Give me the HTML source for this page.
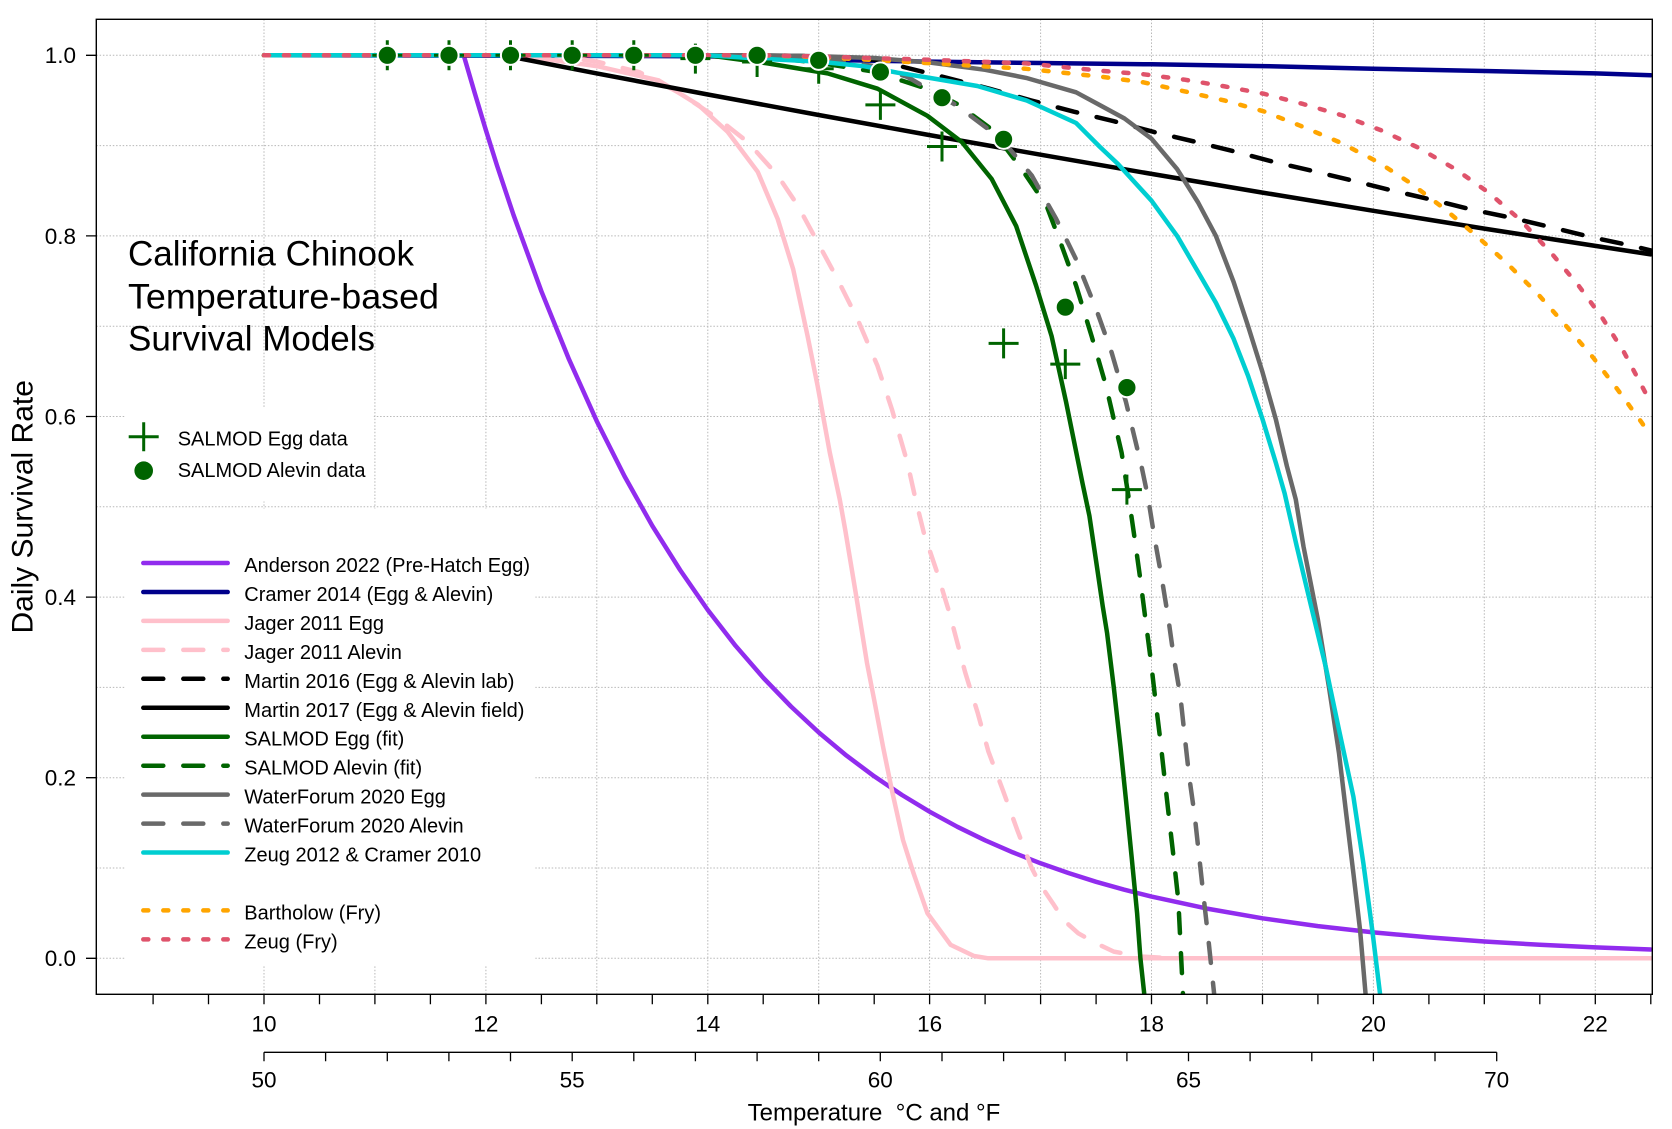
<!DOCTYPE html>
<html>
<head>
<meta charset="utf-8">
<style>
html,body{margin:0;padding:0;background:#fff;}
svg{display:block;}
text{font-family:"Liberation Sans",Arial,sans-serif;fill:#000;}
</style>
</head>
<body>
<svg width="1672" height="1129" viewBox="0 0 1672 1129" xmlns="http://www.w3.org/2000/svg">
<defs>
<clipPath id="pc"><rect x="96.3" y="19.3" width="1556" height="975"/></clipPath>
</defs>
<rect x="0" y="0" width="1672" height="1129" fill="#fff"/>

<!-- grid -->
<g stroke="#b8b8b8" stroke-width="1" stroke-dasharray="1.5 1.8" fill="none">
<path d="M96.3,958.3H1652.3M96.3,868H1652.3M96.3,777.7H1652.3M96.3,687.4H1652.3M96.3,597.1H1652.3M96.3,506.8H1652.3M96.3,416.5H1652.3M96.3,326.2H1652.3M96.3,235.9H1652.3M96.3,145.6H1652.3M96.3,55.3H1652.3"/>
<path d="M264,19.3V994.3M374.9,19.3V994.3M485.9,19.3V994.3M596.8,19.3V994.3M707.8,19.3V994.3M818.7,19.3V994.3M929.6,19.3V994.3M1040.6,19.3V994.3M1151.5,19.3V994.3M1262.5,19.3V994.3M1373.4,19.3V994.3M1484.3,19.3V994.3M1595.3,19.3V994.3"/>
</g>

<!-- curves -->
<g clip-path="url(#pc)" fill="none" stroke-width="4.5" stroke-linecap="round" stroke-linejoin="round">
<path stroke="#912CEE" d="M264,55.3 L463.7,55.3 L474.8,93.2 L485.9,130.2 L497.0,165.5 L513.6,215.2 L541.4,291.3 L569.1,359.6 L596.8,421.2 L624.6,476.4 L652.3,525.8 L680.1,570.0 L707.8,610.0 L735.5,645.7 L763.2,677.7 L791.0,706.5 L818.7,732.4 L846.5,755.6 L874.2,776.3 L902.0,795.0 L929.6,811.7 L957.4,826.8 L985.1,840.3 L1012.9,852.4 L1040.6,863.3 L1068.4,873.0 L1096.1,881.8 L1123.8,889.6 L1151.5,896.6 L1207.0,908.6 L1262.5,918.3 L1317.9,926.1 L1373.4,932.4 L1428.9,937.4 L1484.3,941.5 L1539.8,944.8 L1595.3,947.4 L1650.8,949.5"/>
<path stroke="#00008B" d="M264,55.3 L707.8,56.2 L818.7,59.8 L929.6,61.6 L1040.6,63.0 L1151.5,64.3 L1262.5,66.1 L1373.4,68.8 L1484.3,71.0 L1595.3,73.4 L1650.8,75.2"/>
<path stroke="#FFC0CB" d="M264,55.3 L519.2,55.3 L543.6,58.9 L596.8,66.1 L658.9,80.5 L698.3,104.9 L727.7,131.9 L757.7,171.8 L777.6,218.7 L793.2,269.3 L807.6,336.1 L817.6,385.8 L829.8,452.6 L839.8,499.6 L845.3,530.3 L856.4,597.1 L867.0,663.0 L874.2,700.0 L883.1,747.0 L891.9,790.3 L903.0,840.0 L913.6,873.4 L927.4,913.2 L950.7,944.9 L974.0,956.0 L988.3,958.3 L1650.8,958.3"/>
<path stroke="#FFC0CB" stroke-dasharray="20 20" d="M264,55.3 L552.4,55.3 L596.8,61.6 L639.0,72.0 L678.4,92.3 L717.8,118.5 L747.7,142.0 L777.6,175.4 L797.6,205.2 L817.6,242.2 L837.5,279.2 L857.5,319.0 L877.5,365.9 L891.9,409.3 L907.4,462.6 L915.2,497.8 L924.1,533.9 L936.3,570.0 L949.6,613.4 L965.1,672.1 L977.9,713.6 L988.4,751.5 L1002.9,790.3 L1017.3,830.1 L1031.7,868.0 L1040.6,885.2 L1052.8,903.2 L1063.9,920.4 L1078.3,933.3 L1096.1,943.3 L1113.8,951.6 L1140.4,956.5 L1173.7,958.3 L1650.8,958.3"/>
<path stroke="#000" stroke-dasharray="20 20" d="M264,55.3 L763.2,55.3 L818.7,56.2 L874.2,59.8 L929.6,73.4 L989.3,88.7 L1031.4,100.5 L1073.9,111.7 L1113.8,121.2 L1154.3,132.1 L1193.7,141.4 L1234.7,151.5 L1273.6,161.9 L1312.4,170.9 L1353.4,180.8 L1393.4,190.8 L1432.2,199.8 L1472.2,209.7 L1512.1,217.9 L1550.9,227.2 L1592.0,237.3 L1631.9,245.8 L1650.8,250.4"/>
<path stroke="#000" d="M264,55.3 L503.6,55.3 L596.8,73.4 L707.8,94.5 L818.7,115.0 L929.6,135.1 L1040.6,154.7 L1151.5,173.9 L1262.5,192.6 L1373.4,210.8 L1484.3,228.6 L1595.3,245.9 L1650.8,254.4"/>
<path stroke="#006400" d="M264,55.3 L707.8,55.3 L767.7,63.4 L827.6,73.4 L877.5,88.7 L927.4,115.8 L961.8,142.0 L991.7,179.0 L1016.1,225.9 L1036.1,285.6 L1051.6,336.1 L1066.1,402.1 L1082.7,484.2 L1089.4,515.8 L1096.1,561.0 L1102.7,606.1 L1107.1,633.2 L1113.8,687.4 L1120.5,747.0 L1126.0,800.3 L1131.6,856.7 L1137.1,913.2 L1140.4,958.3 L1144.3,994.4"/>
<path stroke="#006400" stroke-dasharray="20 20" d="M264,55.3 L707.8,55.3 L763.2,57.1 L818.7,62.7 L874.2,71.7 L929.6,89.6 L957.4,104.1 L991.8,129.4 L1021.7,169.1 L1046.7,206.1 L1061.7,245.8 L1076.1,285.6 L1091.6,336.1 L1106.0,385.8 L1121.6,452.6 L1129.4,502.3 L1134.9,540.2 L1140.4,579.9 L1145.5,619.7 L1150.8,660.3 L1155.4,700.0 L1160.3,739.8 L1164.8,780.4 L1169.3,820.1 L1173.9,859.9 L1178.3,900.0 L1183.0,994.4"/>
<path stroke="#696969" d="M264,55.3 L763.2,55.3 L818.7,56.2 L874.2,58.0 L929.6,62.5 L985.1,69.8 L1026.1,77.9 L1076.1,92.3 L1099.4,104.9 L1124.5,118.5 L1151.5,138.7 L1177.1,169.1 L1198.1,202.5 L1215.9,235.9 L1233.6,281.9 L1248.1,326.2 L1262.5,372.2 L1275.8,419.2 L1286.9,466.2 L1295.8,499.6 L1303.5,546.5 L1317.9,619.7 L1329.0,687.4 L1339.0,753.3 L1346.2,813.8 L1353.4,873.4 L1360.1,930.3 L1365.6,994.4"/>
<path stroke="#696969" stroke-dasharray="20 20" d="M264,55.3 L763.2,55.3 L818.7,58.0 L874.2,66.1 L907.5,77.0 L957.4,105.9 L1001.7,139.3 L1031.7,175.4 L1056.1,218.7 L1076.1,259.4 L1096.1,309.0 L1111.6,352.4 L1126.0,402.1 L1141.5,466.2 L1148.1,497.8 L1154.3,536.6 L1161.5,576.8 L1168.1,617.0 L1173.7,656.7 L1180.4,696.4 L1184.8,737.1 L1189.2,776.8 L1194.8,816.5 L1199.2,856.7 L1203.6,896.9 L1208.1,936.6 L1214.2,994.4"/>
<path stroke="#00CED1" d="M264,55.3 L707.8,55.3 L763.2,58.9 L818.7,61.6 L863.1,66.1 L897.5,72.7 L929.6,77.9 L977.3,86.0 L1026.7,100.5 L1076.1,123.0 L1100.0,147.0 L1118.0,164.0 L1151.5,200.7 L1177.1,235.9 L1198.1,272.0 L1215.9,302.7 L1233.6,338.8 L1248.1,375.9 L1262.5,419.2 L1275.8,462.6 L1284.6,493.3 L1296.8,546.5 L1311.3,607.0 L1325.7,666.6 L1339.0,729.8 L1353.4,796.7 L1363.4,863.5 L1372.3,930.3 L1380.1,994.4"/>
<path stroke="#FFA500" stroke-dasharray="5 15" d="M264,55.3 L763.2,55.3 L818.7,57.1 L901.9,61.6 L1026.2,68.8 L1103.3,77.0 L1143.8,82.4 L1184.8,91.4 L1224.7,100.5 L1263.6,111.3 L1300.2,125.7 L1339.0,142.0 L1377.8,161.9 L1411.1,183.5 L1444.4,208.8 L1476.6,235.9 L1507.6,263.9 L1537.6,293.7 L1566.4,326.2 L1593.0,357.4 L1617.5,389.4 L1641.9,422.8 L1650.8,436.4"/>
<path stroke="#DF536B" stroke-dasharray="5 15" d="M264,55.3 L763.2,55.3 L818.7,56.5 L929.6,59.8 L1026.2,63.4 L1103.3,71.0 L1143.8,74.3 L1184.8,79.7 L1224.7,86.4 L1263.6,93.7 L1303.4,104.1 L1342.3,115.4 L1381.1,130.3 L1417.7,147.4 L1455.4,169.1 L1488.7,192.6 L1520.9,220.5 L1552.0,253.9 L1578.6,285.6 L1603.0,319.0 L1624.1,352.4 L1645.1,392.1 L1650.8,401.1"/>
</g>

<!-- egg data (plus) -->
<g stroke="#006400" stroke-width="3" fill="none">
<path d="M372.3,55.3H402.3M387.3,40.3V70.3"/>
<path d="M434,55.3H464M449,40.3V70.3"/>
<path d="M495.5,55.3H525.5M510.5,40.3V70.3"/>
<path d="M557.2,55.3H587.2M572.2,40.3V70.3"/>
<path d="M618.8,55.3H648.8M633.8,40.3V70.3"/>
<path d="M680.4,58.6H710.4M695.4,43.6V73.6"/>
<path d="M742.1,62H772.1M757.1,47V77"/>
<path d="M803.7,68.8H833.7M818.7,53.8V83.8"/>
<path d="M865.4,104.9H895.4M880.4,89.9V119.9"/>
<path d="M927,146.5H957M942,131.5V161.5"/>
<path d="M988.6,343.4H1018.6M1003.6,328.4V358.4"/>
<path d="M1050.3,364.1H1080.3M1065.3,349.1V379.1"/>
<path d="M1111.9,489.6H1141.9M1126.9,474.6V504.6"/>
</g>
<!-- alevin data (circles) -->
<g fill="#006400" stroke="#fff" stroke-width="2">
<circle cx="387.3" cy="55.3" r="9.6"/>
<circle cx="449" cy="55.3" r="9.6"/>
<circle cx="510.5" cy="55.3" r="9.6"/>
<circle cx="572.2" cy="55.3" r="9.6"/>
<circle cx="633.8" cy="55.3" r="9.6"/>
<circle cx="695.4" cy="55.3" r="9.6"/>
<circle cx="757.1" cy="55.3" r="9.6"/>
<circle cx="818.7" cy="60.3" r="9.6"/>
<circle cx="880.4" cy="72" r="9.6"/>
<circle cx="942" cy="97.7" r="9.6"/>
<circle cx="1003.6" cy="139.3" r="9.6"/>
<circle cx="1065.3" cy="307.2" r="9.6"/>
<circle cx="1126.9" cy="387.6" r="9.6"/>
</g>

<!-- title -->
<text x="128" y="265.7" font-size="35">California Chinook</text>
<text x="128" y="308.3" font-size="35" textLength="311" lengthAdjust="spacingAndGlyphs">Temperature-based</text>
<text x="128" y="350.7" font-size="35">Survival Models</text>

<!-- legend 1 -->
<rect x="125.3" y="407" width="248.5" height="94.5" fill="#fff"/>
<path d="M128.7,436.7H158.7M143.7,422.2V451.2" stroke="#006400" stroke-width="3"/>
<circle cx="143.7" cy="470.7" r="9.3" fill="#006400"/>
<text x="177.7" y="445.7" font-size="20">SALMOD Egg data</text>
<text x="177.7" y="477.1" font-size="20">SALMOD Alevin data</text>

<!-- legend 2 -->
<rect x="125.3" y="508.5" width="410" height="456.5" fill="#fff"/>
<g fill="none" stroke-width="4.5" stroke-linecap="round">
<path stroke="#912CEE" d="M143.3,563H227.7"/>
<path stroke="#00008B" d="M143.3,592H227.7"/>
<path stroke="#FFC0CB" d="M143.3,620.9H227.7"/>
<path stroke="#FFC0CB" stroke-dasharray="20 20" d="M143.3,649.9H227.7"/>
<path stroke="#000" stroke-dasharray="20 20" d="M143.3,678.8H227.7"/>
<path stroke="#000" d="M143.3,707.8H227.7"/>
<path stroke="#006400" d="M143.3,736.7H227.7"/>
<path stroke="#006400" stroke-dasharray="20 20" d="M143.3,765.7H227.7"/>
<path stroke="#696969" d="M143.3,794.6H227.7"/>
<path stroke="#696969" stroke-dasharray="20 20" d="M143.3,823.6H227.7"/>
<path stroke="#00CED1" d="M143.3,852.5H227.7"/>
<path stroke="#FFA500" stroke-dasharray="5 15" d="M143.3,910.4H227.7"/>
<path stroke="#DF536B" stroke-dasharray="5 15" d="M143.3,939.4H227.7"/>
</g>
<g font-size="20">
<text x="244.3" y="572">Anderson 2022 (Pre-Hatch Egg)</text>
<text x="244.3" y="601">Cramer 2014 (Egg &amp; Alevin)</text>
<text x="244.3" y="629.9">Jager 2011 Egg</text>
<text x="244.3" y="658.9">Jager 2011 Alevin</text>
<text x="244.3" y="687.8">Martin 2016 (Egg &amp; Alevin lab)</text>
<text x="244.3" y="716.8">Martin 2017 (Egg &amp; Alevin field)</text>
<text x="244.3" y="745.7">SALMOD Egg (fit)</text>
<text x="244.3" y="774.7">SALMOD Alevin (fit)</text>
<text x="244.3" y="803.6">WaterForum 2020 Egg</text>
<text x="244.3" y="832.6">WaterForum 2020 Alevin</text>
<text x="244.3" y="861.5">Zeug 2012 &amp; Cramer 2010</text>
<text x="244.3" y="919.4">Bartholow (Fry)</text>
<text x="244.3" y="948.4">Zeug (Fry)</text>
</g>

<!-- box -->
<rect x="96.3" y="19.3" width="1556" height="975" fill="none" stroke="#000" stroke-width="1.4"/>

<!-- y axis -->
<g stroke="#000" stroke-width="1.3">
<path d="M86,958.3H96.3M86,777.7H96.3M86,597.1H96.3M86,416.5H96.3M86,235.9H96.3M86,55.3H96.3"/>
</g>
<g font-size="22.5" text-anchor="end">
<text x="76" y="966.2">0.0</text>
<text x="76" y="785.6">0.2</text>
<text x="76" y="605">0.4</text>
<text x="76" y="424.4">0.6</text>
<text x="76" y="243.8">0.8</text>
<text x="76" y="63.2">1.0</text>
</g>
<text transform="translate(32.5,506.8) rotate(-90)" font-size="30" text-anchor="middle">Daily Survival Rate</text>

<!-- x axis C -->
<g stroke="#000" stroke-width="1.3">
<path d="M153.1,994.3V1004.3M208.5,994.3V1004.3M264,994.3V1004.3M319.5,994.3V1004.3M374.9,994.3V1004.3M430.4,994.3V1004.3M485.9,994.3V1004.3M541.4,994.3V1004.3M596.8,994.3V1004.3M652.3,994.3V1004.3M707.8,994.3V1004.3M763.2,994.3V1004.3M818.7,994.3V1004.3M874.2,994.3V1004.3M929.6,994.3V1004.3M985.1,994.3V1004.3M1040.6,994.3V1004.3M1096.1,994.3V1004.3M1151.5,994.3V1004.3M1207,994.3V1004.3M1262.5,994.3V1004.3M1317.9,994.3V1004.3M1373.4,994.3V1004.3M1428.9,994.3V1004.3M1484.3,994.3V1004.3M1539.8,994.3V1004.3M1595.3,994.3V1004.3M1650.8,994.3V1004.3"/>
</g>
<g font-size="22.5" text-anchor="middle">
<text x="264" y="1031.4">10</text>
<text x="485.9" y="1031.4">12</text>
<text x="707.8" y="1031.4">14</text>
<text x="929.6" y="1031.4">16</text>
<text x="1151.5" y="1031.4">18</text>
<text x="1373.4" y="1031.4">20</text>
<text x="1595.3" y="1031.4">22</text>
</g>

<!-- x axis F -->
<g stroke="#000" stroke-width="1.3" fill="none">
<path d="M264,1052.3H1496.7"/>
<path d="M264,1052.3V1061.3M325.6,1052.3V1061.3M387.3,1052.3V1061.3M448.9,1052.3V1061.3M510.5,1052.3V1061.3M572.2,1052.3V1061.3M633.8,1052.3V1061.3M695.4,1052.3V1061.3M757.1,1052.3V1061.3M818.7,1052.3V1061.3M880.3,1052.3V1061.3M942,1052.3V1061.3M1003.6,1052.3V1061.3M1065.2,1052.3V1061.3M1126.9,1052.3V1061.3M1188.5,1052.3V1061.3M1250.1,1052.3V1061.3M1311.8,1052.3V1061.3M1373.4,1052.3V1061.3M1435,1052.3V1061.3M1496.7,1052.3V1061.3"/>
</g>
<g font-size="22.5" text-anchor="middle">
<text x="264" y="1087.6">50</text>
<text x="572.2" y="1087.6">55</text>
<text x="880.3" y="1087.6">60</text>
<text x="1188.5" y="1087.6">65</text>
<text x="1496.7" y="1087.6">70</text>
</g>
<text x="874" y="1120.5" font-size="24" text-anchor="middle">Temperature&#160; °C and °F</text>
</svg>
</body>
</html>
